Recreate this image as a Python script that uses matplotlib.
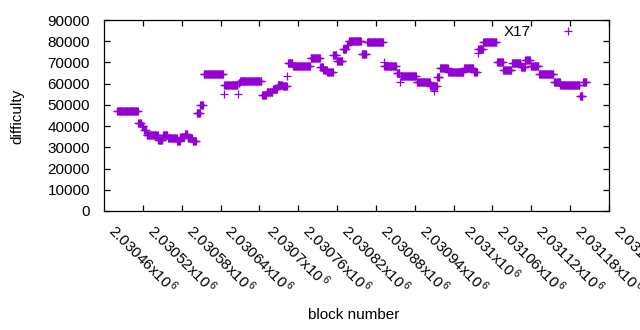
import numpy as np
import matplotlib
matplotlib.use("Agg")
import matplotlib.pyplot as plt
import matplotlib.transforms as mtransforms

plt.rcParams['font.family'] = ['Liberation Sans', 'DejaVu Sans']
plt.rcParams['mathtext.default'] = 'regular'

# Runs of consecutive blocks with constant difficulty
run_start = [2030420, 2030453, 2030458, 2030462, 2030466, 2030484, 2030491, 2030499,
             2030513, 2030518, 2030525, 2030529, 2030537, 2030543, 2030549, 2030554,
             2030585, 2030586, 2030607, 2030608, 2030610, 2030644, 2030651, 2030661,
             2030668, 2030676, 2030683, 2030684, 2030692, 2030719, 2030734, 2030739,
             2030745, 2030754, 2030760, 2030769, 2030775, 2030778, 2030798, 2030806,
             2030832, 2030833, 2030852, 2030857, 2030858, 2030866, 2030883, 2030904,
             2030910, 2030911, 2030915, 2030919, 2030932, 2030956, 2030971, 2030977,
             2030978, 2030986, 2031007, 2031017, 2031030, 2031044, 2031051, 2031059,
             2031072, 2031095, 2031105, 2031135, 2031140]
run_end = [2030452, 2030457, 2030461, 2030465, 2030483, 2030490, 2030498, 2030512,
           2030517, 2030524, 2030528, 2030536, 2030542, 2030548, 2030553, 2030584,
           2030585, 2030606, 2030607, 2030609, 2030643, 2030650, 2030660, 2030667,
           2030675, 2030682, 2030683, 2030691, 2030718, 2030733, 2030738, 2030744,
           2030753, 2030759, 2030768, 2030774, 2030777, 2030797, 2030805, 2030831,
           2030832, 2030851, 2030856, 2030857, 2030865, 2030882, 2030903, 2030909,
           2030910, 2030914, 2030918, 2030931, 2030955, 2030970, 2030976, 2030977,
           2030985, 2031006, 2031016, 2031029, 2031043, 2031050, 2031058, 2031071,
           2031094, 2031104, 2031134, 2031139, 2031145]
run_value = [47000, 41500, 40000, 38000, 36000, 33500, 36000, 34200,
             32800, 35000, 36500, 34200, 33000, 46000, 50000, 64500,
             55300, 59300, 55300, 60500, 61400, 54800, 56000, 57500,
             59500, 59000, 63800, 69600, 68400, 72000, 68000, 66500,
             65500, 73500, 70500, 76500, 78000, 80000, 74000, 79600,
             70000, 68200, 65000, 61000, 63800, 63500, 61000, 59000,
             56700, 59000, 63000, 67500, 65500, 67500, 65500, 74500,
             76200, 79500, 70000, 66500, 69700, 68000, 71000, 68300,
             64500, 61000, 59300, 54000, 61000]

x_ticks = [2030460 + 60 * i for i in range(14)]
x_tick_mant = ["2.03046", "2.03052", "2.03058", "2.03064", "2.0307", "2.03076", "2.03082",
               "2.03088", "2.03094", "2.031", "2.03106", "2.03112", "2.03118", "2.03124"]
y_ticks = [0, 10000, 20000, 30000, 40000, 50000, 60000, 70000, 80000, 90000]
series_label = "X17"

blocks = np.concatenate([np.arange(s, e + 1) for s, e in zip(run_start, run_end)])
diffs = np.concatenate([np.full(e - s + 1, v) for s, e, v in zip(run_start, run_end, run_value)])

W, H = 640, 330
fig = plt.figure(figsize=(6.4, 3.3), dpi=100)
ax = fig.add_axes([104 / W, 1 - 211 / H, (609 - 104) / W, (211 - 20) / H])

color = '#9400D3'
ax.plot(blocks, diffs, linestyle='none', marker='+', markersize=6.2,
        markeredgewidth=0.9, color=color, label=series_label)

ax.set_xlim(2030400, 2031180)
ax.set_ylim(0, 90000)

labels = [f"{m}x10$^{{\\,6}}$" for m in x_tick_mant]
in_ticks = [t for t in x_ticks if t <= 2031180]
ax.set_xticks(in_ticks)
ax.set_xticklabels(labels[:len(in_ticks)], rotation=-45, ha='center', va='top', fontsize=11)
ax.set_yticks(y_ticks)
ax.set_yticklabels([str(v) for v in y_ticks], fontsize=11)

ax.tick_params(axis='both', direction='in', length=4, width=0.9,
               top=True, right=True)
ax.tick_params(axis='x', pad=7)
ax.tick_params(axis='y', pad=10)
for sp in ax.spines.values():
    sp.set_linewidth(0.9)

# label for the tick beyond the plotted range (drawn like the others)
trans = mtransforms.blended_transform_factory(ax.transData, ax.transAxes)
for t, lab in zip(x_ticks[len(in_ticks):], labels[len(in_ticks):]):
    ax.annotate(lab, xy=(t, 0), xycoords=trans, xytext=(0, -7), textcoords='offset points',
                rotation=-45, ha='center', va='top', fontsize=11, annotation_clip=False)

fig.text(17 / W, 1 - 116 / H, "difficulty", rotation=90, ha='center', va='center', fontsize=11)
fig.text(354 / W, 1 - 315 / H, "block number", ha='center', va='center', fontsize=11)

ax.legend(loc='center right', bbox_to_anchor=((589 - 104) / 505, (211 - 32) / 191),
          borderaxespad=0, frameon=False, markerfirst=False, numpoints=1,
          handlelength=2.0, handletextpad=1.4, fontsize=11)

fig.savefig("out.png", dpi=100)
